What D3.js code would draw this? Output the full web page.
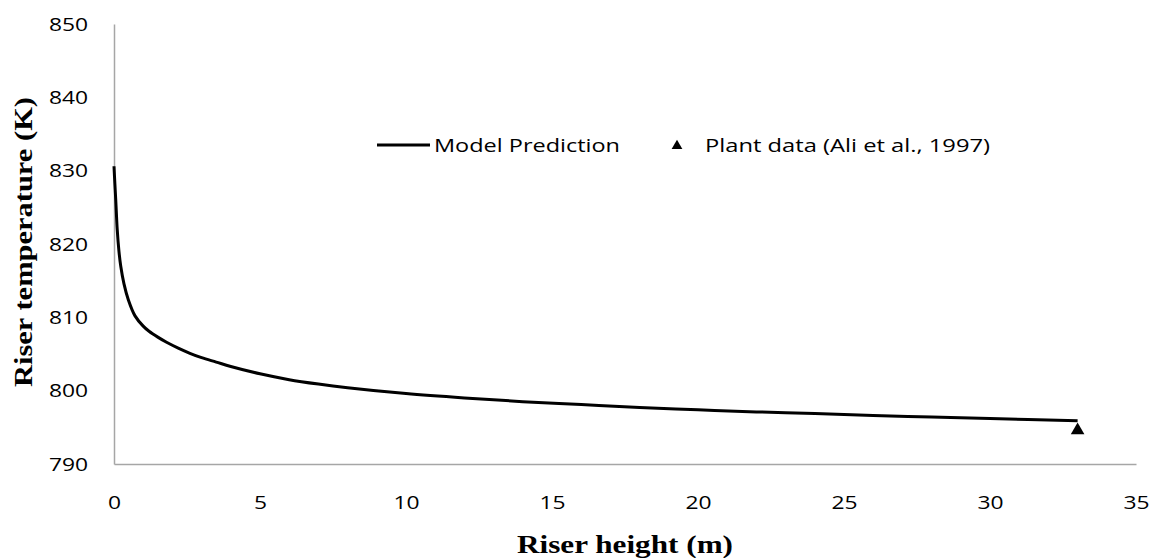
<!DOCTYPE html>
<html>
<head>
<meta charset="utf-8">
<script src="https://cdnjs.cloudflare.com/ajax/libs/d3/7.8.5/d3.min.js"></script>
<style>
    body { margin: 0; background: #fff; }
    .tick text { font-family: "Open Sans", sans-serif; font-size: 19px; fill: #000; }
    .axis-title { font-family: "Liberation Serif", "Times New Roman", serif; font-weight: bold; font-size: 26px; }
    .legend text { font-family: "Open Sans", sans-serif; font-size: 18px; }
</style>
</head>
<body>
<div id="chart"></div>
<script>
    var width = 1151,
        height = 558;
    var margin = {top: 24, right: 15, bottom: 94, left: 114};

    // model curve
    var riserHeight = [0, 0.03, 0.06, 0.11, 0.17, 0.23, 0.34, 0.49, 0.72, 1.0, 1.2, 1.5, 1.8, 2.2, 2.6, 3.0, 3.5, 4.0, 5, 6, 7, 8, 10, 12, 14, 16, 18, 20, 22, 24, 26, 28, 30, 33];
    var riserTemp = [830.6, 828.2, 826.0, 822.0, 819.0, 817.0, 814.6, 812.4, 810.2, 808.8, 808.1, 807.3, 806.6, 805.8, 805.1, 804.5, 803.9, 803.3, 802.3, 801.5, 800.9, 800.4, 799.6, 799.0, 798.5, 798.1, 797.7, 797.4, 797.1, 796.9, 796.6, 796.4, 796.2, 795.9];

    // plant data point
    var plantHeight = [33];
    var plantTemp = [794.6];

    var xTicks = [0, 5, 10, 15, 20, 25, 30, 35];
    var yTicks = [790, 800, 810, 820, 830, 840, 850];

    var stretch = 1.2; // the source text is drawn wide

    var model = riserHeight.map(function(h, i) { return {x: h, y: riserTemp[i]}; });
    var plant = plantHeight.map(function(h, i) { return {x: h, y: plantTemp[i]}; });

    var svg = d3.select("#chart").append("svg")
        .attr("width", width)
        .attr("height", height);

    var plot = svg.append("g")
        .attr("transform", "translate(" + margin.left + "," + margin.top + ")");

    var w = 1136 - margin.left,
        h = 464 - margin.top;

    var xScale = d3.scaleLinear().domain([0, 35]).range([0, w]);
    var yScale = d3.scaleLinear().domain([790, 850]).range([h, 0]);

    var xAxis = d3.axisBottom(xScale).tickValues(xTicks).tickSize(0).tickPadding(32);
    var yAxis = d3.axisLeft(yScale).tickValues(yTicks).tickSize(0).tickPadding(26);

    var gx = plot.append("g")
        .attr("class", "x-axis")
        .attr("transform", "translate(0," + h + ")")
        .call(xAxis);
    var gy = plot.append("g")
        .attr("class", "y-axis")
        .call(yAxis);

    gx.select(".domain").attr("stroke", "#a6a6a6").attr("stroke-width", 1.5);
    gy.select(".domain").attr("stroke", "#a6a6a6").attr("stroke-width", 1.5);

    // widen tick labels like the source
    svg.selectAll(".tick text").each(function() {
        d3.select(this)
            .attr("textLength", this.getComputedTextLength() * stretch)
            .attr("lengthAdjust", "spacingAndGlyphs");
    });

    var line = d3.line()
        .x(function(d) { return xScale(d.x); })
        .y(function(d) { return yScale(d.y); })
        .curve(d3.curveCatmullRom.alpha(0.5));

    plot.append("path")
        .datum(model)
        .attr("fill", "none")
        .attr("stroke", "#000")
        .attr("stroke-width", 3)
        .attr("d", line);

    var tri = d3.symbol().type(d3.symbolTriangle).size(80);
    plot.selectAll(".point")
        .data(plant)
        .enter()
        .append("path")
        .attr("class", "point")
        .attr("d", tri)
        .attr("fill", "#000")
        .attr("transform", function(d) { return "translate(" + xScale(d.x) + "," + yScale(d.y) + ")"; });

    // axis titles
    svg.append("text")
        .attr("class", "axis-title")
        .attr("text-anchor", "middle")
        .attr("x", 625)
        .attr("y", 553)
        .attr("textLength", 216)
        .attr("lengthAdjust", "spacingAndGlyphs")
        .text("Riser height (m)");

    svg.append("text")
        .attr("class", "axis-title")
        .attr("text-anchor", "middle")
        .attr("transform", "translate(32,242) rotate(-90)")
        .attr("textLength", 290)
        .attr("lengthAdjust", "spacingAndGlyphs")
        .text("Riser temperature (K)");

    // legend
    var legend = svg.append("g").attr("class", "legend");
    legend.append("line")
        .attr("x1", 377).attr("x2", 430)
        .attr("y1", 145).attr("y2", 145)
        .attr("stroke", "#000").attr("stroke-width", 3);
    legend.append("text")
        .attr("x", 434).attr("y", 152)
        .attr("textLength", 186)
        .attr("lengthAdjust", "spacingAndGlyphs")
        .text("Model Prediction");
    legend.append("path")
        .attr("d", d3.symbol().type(d3.symbolTriangle).size(50))
        .attr("transform", "translate(677,146)");
    legend.append("text")
        .attr("x", 705).attr("y", 152)
        .attr("textLength", 285)
        .attr("lengthAdjust", "spacingAndGlyphs")
        .text("Plant data (Ali et al., 1997)");
</script>
</body>
</html>
